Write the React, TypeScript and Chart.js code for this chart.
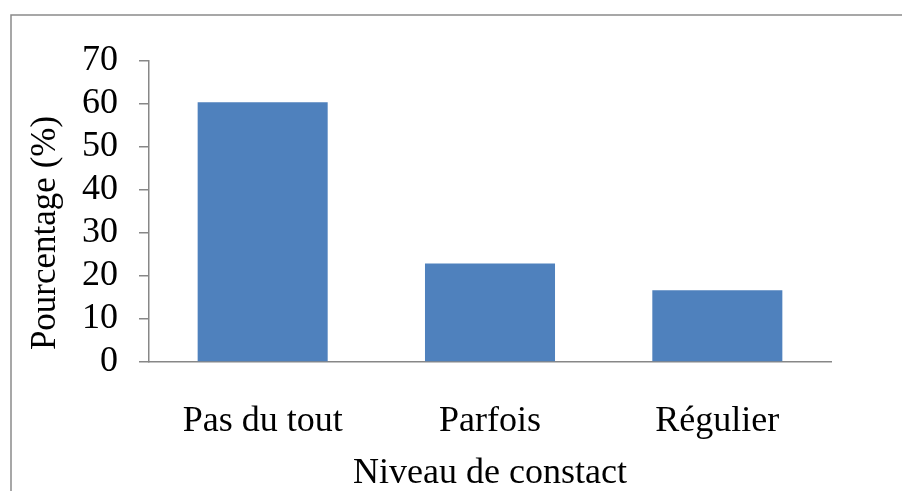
import React, { useEffect, useRef } from "react";
import { Chart, registerables } from "chart.js";

Chart.register(...registerables);

const categories = ["Pas du tout", "Parfois", "Régulier"];
const percentages = [60.4, 22.9, 16.7];
const yMin = 0;
const yMax = 70;
const yStep = 10;
const xAxisTitle = "Niveau de constact";
const yAxisTitle = "Pourcentage (%)";

const FONT = "'Liberation Serif', 'Times New Roman', serif";
const AXIS_GREY = "#878787";

const framePlugin = {
  id: "frameAndYTitle",
  beforeDraw(chart: any) {
    const ctx = chart.ctx;
    ctx.save();
    ctx.strokeStyle = "#8a8a8a";
    ctx.lineWidth = 1.5;
    ctx.beginPath();
    ctx.moveTo(11, chart.height + 2);
    ctx.lineTo(11, 15);
    ctx.lineTo(chart.width + 2, 15);
    ctx.stroke();
    ctx.restore();
  },
  afterDraw(chart: any) {
    const ctx = chart.ctx;
    ctx.save();
    ctx.translate(46, 233);
    ctx.rotate(-Math.PI / 2);
    ctx.font = `35px ${FONT}`;
    ctx.fillStyle = "#000000";
    ctx.textAlign = "center";
    ctx.textBaseline = "middle";
    ctx.fillText(yAxisTitle, 0, 0);
    ctx.restore();
  },
};

export default function App() {
  const ref = useRef<HTMLCanvasElement | null>(null);

  useEffect(() => {
    document.body.style.margin = "0";
    if (!ref.current) return;
    const chart = new Chart(ref.current, {
      type: "bar",
      data: {
        labels: categories,
        datasets: [
          {
            data: percentages,
            backgroundColor: "#4F81BD",
            barPercentage: 0.572,
            categoryPercentage: 1,
          },
        ],
      },
      options: {
        animation: false,
        responsive: false,
        layout: { padding: { left: 0, right: 71, top: 61, bottom: 0 } },
        plugins: {
          legend: { display: false },
          tooltip: { enabled: false },
        },
        scales: {
          x: {
            grid: { display: false, drawTicks: false },
            border: { display: true, color: AXIS_GREY, width: 1.5 },
            ticks: {
              color: "#000",
              font: { family: FONT, size: 36 },
              padding: 38,
            },
            title: {
              display: true,
              text: xAxisTitle,
              color: "#000",
              font: { family: FONT, size: 36 },
              padding: { top: 0, bottom: -4 },
            },
            afterFit: (scale: any) => {
              scale.height = 129;
            },
          },
          y: {
            min: yMin,
            max: yMax,
            grid: {
              drawOnChartArea: false,
              drawTicks: true,
              tickLength: 10,
              color: AXIS_GREY,
              lineWidth: 1.5,
            },
            border: { display: true, color: AXIS_GREY, width: 1.5 },
            ticks: {
              stepSize: yStep,
              autoSkip: false,
              color: "#000",
              font: { family: FONT, size: 36 },
              padding: 21,
            },
            afterFit: (scale: any) => {
              scale.width = 149;
            },
          },
        },
      },
      plugins: [framePlugin],
    });
    return () => chart.destroy();
  }, []);

  return <canvas ref={ref} width={902} height={491} style={{ display: "block" }} />;
}
